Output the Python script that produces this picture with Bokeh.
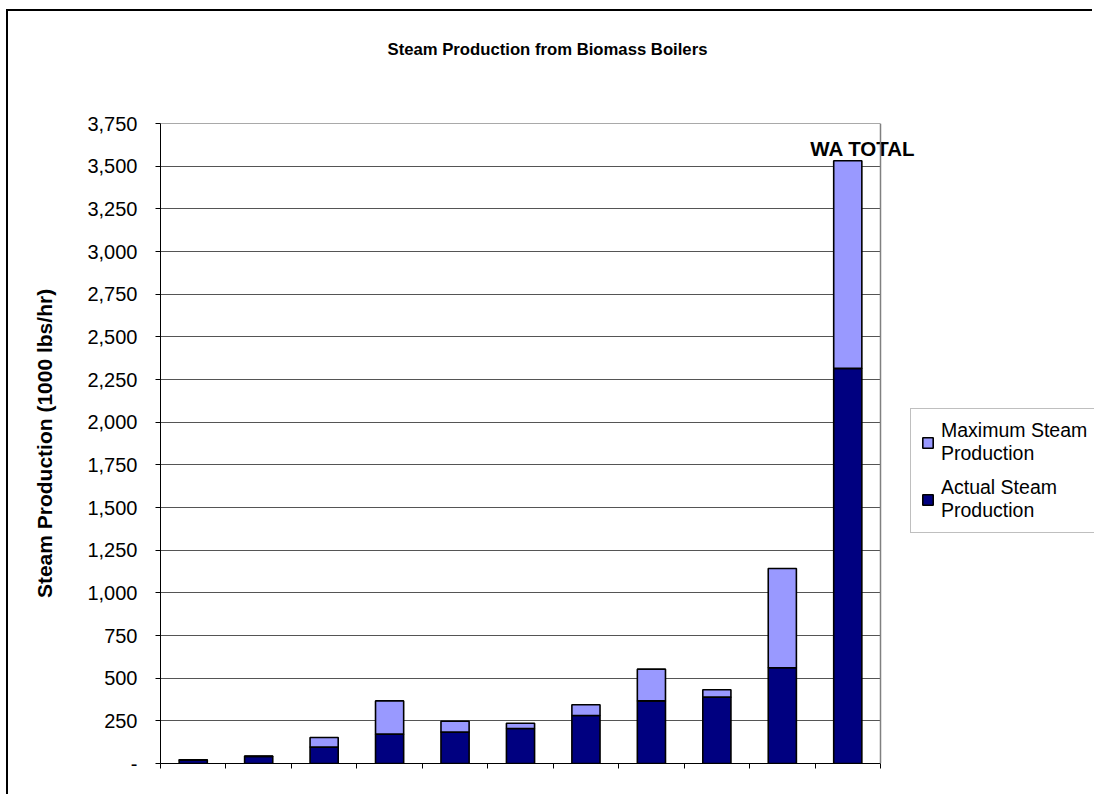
from bokeh.plotting import figure
from bokeh.models import (Range1d, FixedTicker, NumeralTickFormatter, Legend, LegendItem,
                          ColumnDataSource, Span, Title)
from bokeh.embed import file_html
from bokeh.resources import INLINE
from bokeh.core.properties import value

# ---- data ----
labels = ["", "", "", "", "", "", "", "", "", "", "WA TOTAL"]
actual = [20, 42, 96, 172, 184, 205, 281, 367, 389, 561, 2316]
maximum = [22, 43, 152, 367, 248, 236, 344, 553, 432, 1143, 3533]
y_ticks = [0, 250, 500, 750, 1000, 1250, 1500, 1750, 2000, 2250, 2500, 2750, 3000, 3250, 3500, 3750]
title_text = "Steam Production from Biomass Boilers"
y_title = "Steam Production (1000 lbs/hr)"
series_names = ["Maximum Steam\nProduction", "Actual Steam\nProduction"]

FONT = "Liberation Sans"
n = len(labels)
xs = [i + 0.5 for i in range(n)]
src = ColumnDataSource(dict(x=xs, actual=actual, maximum=maximum))
lab_idx = [i for i, s in enumerate(labels) if s]
lab_src = ColumnDataSource(dict(x=[xs[i] for i in lab_idx], y=[maximum[i] for i in lab_idx],
                                text=[labels[i] for i in lab_idx]))

# canvas placement (outer chart border drawn as a CSS box-shadow on the left/top)
OX, OY = 8, 11
W, H = 1086, 785
FRAME_L, FRAME_T, FRAME_B = 160, 123, 763
frame_w = OX + W - FRAME_L
x_end = n * frame_w / 720.0

p = figure(width=W, height=H, output_backend="svg", toolbar_location=None,
           x_range=Range1d(0, x_end), y_range=Range1d(y_ticks[0], y_ticks[-1] + 1),
           min_border_left=FRAME_L - OX, min_border_right=0,
           min_border_top=FRAME_T - OY, min_border_bottom=OY + H - FRAME_B)
p.styles = {"margin-left": "8px", "margin-top": "11px",
            "box-shadow": "-2px -2px 0px 0px black"}
p.background_fill_color = "white"
p.border_fill_color = "white"
p.outline_line_color = None

# titles: spacer nearest the frame, then the real title above it
p.title = None
spacer = Title(text=" ", text_font_size="1px", standoff=44)
main_title = Title(text=title_text, text_font=FONT, text_font_size="16.7px",
                   text_font_style="bold", text_color="black", align="left",
                   offset=227, standoff=36)
p.add_layout(spacer, "above")
p.add_layout(main_title, "above")

# bars
r_act = p.vbar(x="x", width=0.43, bottom=0, top="actual", source=src,
               fill_color="#000080", line_color="black", line_width=1.6)
r_max = p.vbar(x="x", width=0.43, bottom="actual", top="maximum", source=src,
               fill_color="#9999FF", line_color="black", line_width=1.6)

p.text(x="x", y="y", text="text", source=lab_src, x_offset=15, y_offset=-1,
       text_align="center", text_baseline="bottom", text_font=value(FONT),
       text_font_size="20.5px", text_font_style="bold", text_color="black")

# axes
p.xaxis.ticker = FixedTicker(ticks=list(range(n + 1)))
p.xaxis.bounds = (0, n)
p.xaxis.major_label_overrides = {i: "" for i in range(n + 1)}
p.xaxis.major_label_text_color = None
p.xaxis.major_tick_out = 5
p.xaxis.major_tick_in = 0
p.xaxis.minor_tick_line_color = None
p.xaxis.axis_line_color = "black"
p.xaxis.major_tick_line_color = "black"

p.yaxis.ticker = FixedTicker(ticks=y_ticks)
p.yaxis.formatter = NumeralTickFormatter(format="0,0")
p.yaxis.major_label_overrides = {0: "-"}
p.yaxis.major_tick_out = 5
p.yaxis.major_tick_in = 0
p.yaxis.minor_tick_line_color = None
p.yaxis.major_label_standoff = 18
p.yaxis.major_label_text_font = FONT
p.yaxis.major_label_text_font_size = "20px"
p.yaxis.major_label_text_color = "black"
p.yaxis.axis_label = y_title
p.yaxis.axis_label_text_font = FONT
p.yaxis.axis_label_text_font_size = "21px"
p.yaxis.axis_label_text_font_style = "bold"
p.yaxis.axis_label_text_color = "black"
p.yaxis.axis_label_standoff = 28
p.yaxis.axis_line_color = "black"

p.xgrid.grid_line_color = None
yg = p.ygrid[0]
yg.grid_line_color = "#555555"
yg.grid_line_width = 1
try:
    yg.cross_bounds = (0, n)
    masked = True
except Exception:
    masked = False
if not masked:
    p.quad(left=[n], right=[x_end], bottom=[y_ticks[0]], top=[y_ticks[-1] + 1],
           fill_color="white", line_color=None, level="underlay")

p.add_layout(Span(location=n, dimension="height", line_color="#808080", line_width=1.5))

legend = Legend(items=[LegendItem(label=series_names[0], renderers=[r_max]),
                       LegendItem(label=series_names[1], renderers=[r_act])],
                location=(750, 763 - 533))
legend.label_text_font = FONT
legend.label_text_font_size = "19.5px"
legend.label_text_color = "black"
legend.label_text_line_height = 1.2
legend.label_standoff = 7
legend.label_width = 175
legend.glyph_width = 13
legend.glyph_height = 13
legend.border_line_color = "#808080"
legend.border_line_width = 1.5
legend.background_fill_alpha = 1
legend.padding = 10
legend.spacing = 11
legend.margin = 0
p.add_layout(legend)

open("out.html", "w").write(file_html(p, INLINE))
